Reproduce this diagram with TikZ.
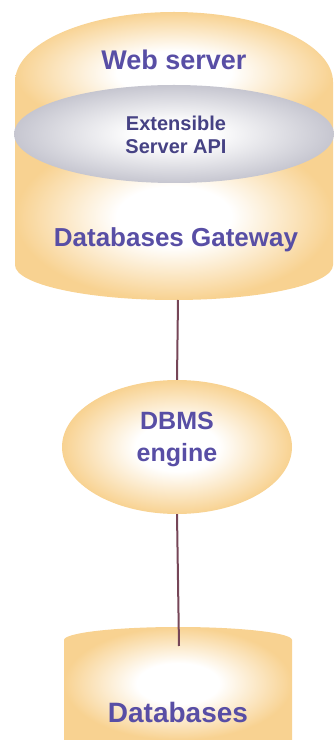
\documentclass[tikz,border=0pt]{standalone}
\usepackage{fontspec}
\setmainfont{Liberation Sans}
\usetikzlibrary{shapes.geometric}
\definecolor{sand}{RGB}{248,210,145}
\definecolor{mist}{RGB}{198,198,208}
\definecolor{ink}{RGB}{88,78,165}
\definecolor{inkdark}{RGB}{70,66,132}
\definecolor{wire}{RGB}{118,70,88}
% white core fading out to the rim colour
\pgfdeclareradialshading{sandglow}{\pgfpoint{0bp}{0bp}}{color(0bp)=(white); color(9bp)=(white); color(25bp)=(sand); color(50bp)=(sand)}
\pgfdeclareradialshading{mistglow}{\pgfpoint{0bp}{0bp}}{color(0bp)=(white); color(6bp)=(white); color(25bp)=(mist); color(50bp)=(mist)}
\tikzset{
  glow/.style={shading=sandglow},
  lbl/.style={text=ink, align=center, inner sep=0pt},
  link/.style={draw=wire, line width=2pt}
}

\begin{document}
\begin{tikzpicture}[x=1pt,y=1pt]
  \useasboundingbox (0,0) rectangle (334,740);

  % gateway cylinder: cap and body shaded apart
  \shade[glow] (15,658) arc (180:0:159 and 70) -- (333,606) -- (15,606) -- cycle;
  \shade[glow] (15,607) -- (15,475) arc (180:360:159 and 35) -- (333,607) -- cycle;
  \shade[shading=mistglow] (174,606) ellipse (160 and 49); % api ring

  \node[lbl, font=\fontsize{27}{30}\selectfont\bfseries] (web) at (174,680) {Web server};
  \node[lbl, text=inkdark, font=\fontsize{20}{23}\selectfont\bfseries] (api) at (176,605) {Extensible\\Server API};
  \node[lbl, font=\fontsize{26}{30}\selectfont\bfseries] (gw) at (176,500) {Databases Gateway};
  \coordinate (gwbase) at (178,440);

  % engine
  \node[ellipse, shade, glow, minimum width=230, minimum height=134, inner sep=0pt] (dbms) at (177,293) {};
  \node[lbl, font=\fontsize{25}{32}\selectfont\bfseries] (dbmstext) at (177,301) {DBMS\\engine};
  \draw[link] (gwbase) -- (dbms.north);

  % databases drum, cut off at the bottom
  \shade[glow] (64,100) arc (180:0:114 and 13) -- (292,0) -- (64,0) -- cycle;
  \coordinate (dbtop) at (179,94);
  \draw[link] (dbms.south) -- (dbtop);
  \node[lbl, font=\fontsize{28}{32}\selectfont\bfseries] (db) at (178,28) {Databases};
\end{tikzpicture}
\end{document}
